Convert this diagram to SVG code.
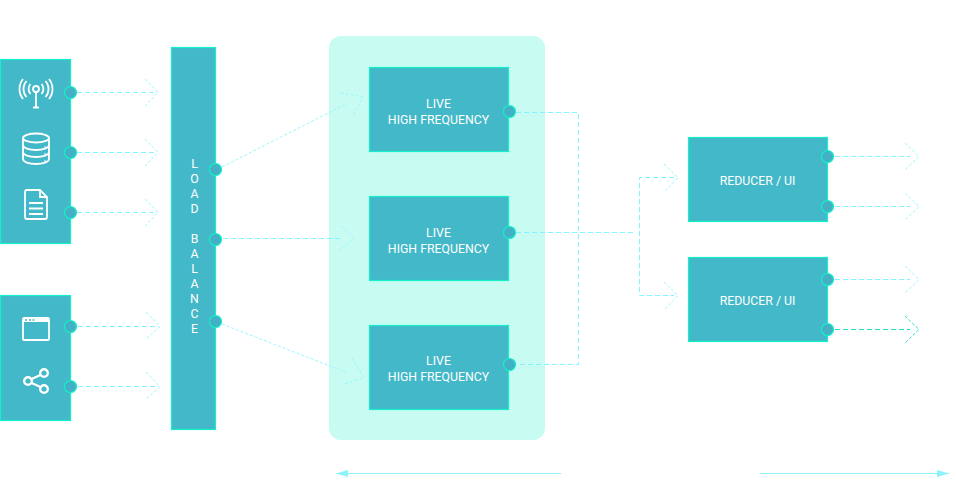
<svg xmlns="http://www.w3.org/2000/svg" width="956" height="482" viewBox="0 0 956 482">
<defs>
<style>
.box{fill:#43b8c8;stroke:#14f0c8;stroke-width:1.200}
.dot{fill:#43b0c6;stroke:#14f0c8;stroke-width:1.200}
.t{font-family:Roboto,"Liberation Sans",sans-serif;font-size:12.300px;fill:#fff;text-anchor:middle}
.d{fill:none;stroke:#80f4ff;stroke-width:1;stroke-dasharray:5 3}
.c{fill:none;stroke:#9af6ff;stroke-width:1;stroke-dasharray:3 2}
.i{fill:none;stroke:#fff;stroke-width:1.800}
.s{fill:none;stroke:#8ff2fa;stroke-width:1}
</style>
<marker id="tip" markerWidth="12" markerHeight="8" refX="12" refY="3.500" orient="auto" markerUnits="userSpaceOnUse"><path d="M0 0 L12 3.500 L0 7 Z" fill="#8ff2fa"/></marker>
</defs>
<rect id="panel" x="329" y="36" width="216" height="404" rx="12" fill="#c8fcf3"/>
<g id="connectors">
<path class="d" d="M77 92.500H155"/><path class="c" d="M145 79L158 92.500L145 106"/>
<path class="d" d="M77 152.500H155"/><path class="c" d="M145 139L158 152.500L145 166"/>
<path class="d" d="M77 212.500H155"/><path class="c" d="M145 199L158 212.500L145 226"/>
<path class="d" d="M78 326.500H157"/><path class="c" d="M146 312L160 326.500L146 339"/>
<path class="d" d="M78 386.500H157"/><path class="c" d="M146 372L160 386.500L146 399"/>
<path class="c" d="M222 167L348 103"/><path class="c" d="M341 93L363 97L353 117"/>
<path class="d" d="M223 238.500H340"/><path class="c" d="M341 226L354 238.500L338 252"/>
<path class="c" d="M222 324L348 373"/><path class="c" d="M352 358L364 378L343 384"/>
<path class="d" d="M516 112.500H578.500V364.500H516"/>
<path class="d" d="M516 232.500H636"/>
<path class="d" d="M674 177.500H639.500V295.500H674"/>
<path class="c" d="M664 164L678 177.500L665 191"/>
<path class="c" d="M664 282L678 295.500L665 309"/>
<path class="d" d="M835 156.500H910"/><path class="c" d="M905 143L919 156.500L905 170"/>
<path class="d" d="M835 206.500H910"/><path class="c" d="M905 193L919 206.500L905 220"/>
<path class="d" d="M835 279.500H910"/><path class="c" d="M905 266L919 279.500L905 293"/>
<path d="M835 329.500H910" fill="none" stroke="#20e0c8" stroke-dasharray="5 3"/><path d="M905 316L919 329.500L905 343" fill="none" stroke="#20dcc8" stroke-dasharray="3 2"/>
<path class="s" d="M561 473.500H336" marker-end="url(#tip)"/>
<path class="s" d="M760 473.500H949" marker-end="url(#tip)"/>
</g>
<g id="sources-a">
<rect class="box" x="0.500" y="59.500" width="70" height="184"/>
<circle class="dot" cx="70.500" cy="92.500" r="6"/><circle class="dot" cx="70.500" cy="152.500" r="6"/><circle class="dot" cx="70.500" cy="212.500" r="6"/>
<g class="i">
<circle cx="36" cy="89" r="3"/><path d="M36 92V107M33 107.500H39"/>
<path d="M30.500 94A7.500 7.500 0 0 1 30.500 84M41.500 84A7.500 7.500 0 0 1 41.500 94"/>
<path d="M26.500 97A12 12 0 0 1 26.500 81M45.500 81A12 12 0 0 1 45.500 97"/>
<path d="M23 99A16 16 0 0 1 23 79M49 79A16 16 0 0 1 49 99"/>
</g>
<g class="i">
<ellipse cx="36" cy="138" rx="13" ry="4.500"/>
<path d="M23 138V159C23 162 29 164 36 164C43 164 49 162 49 159V138M23 145C23 148 29 150 36 150C43 150 49 148 49 145M23 152C23 155 29 157 36 157C43 157 49 155 49 152"/>
</g>
<path d="M44 147H46M44 154H46M44 161H46" stroke="#fff" stroke-width="1"/>
<path class="i" d="M27 190H40L47 197V217A2 2 0 0 1 45 219H27A2 2 0 0 1 25 217V192A2 2 0 0 1 27 190ZM40 190V197H47"/>
<path class="i" d="M29 203H43M29 208.500H43M29 214H43"/>
</g>
<g id="sources-b">
<rect class="box" x="0.500" y="295.500" width="70" height="125"/>
<circle class="dot" cx="70.500" cy="326.500" r="6"/><circle class="dot" cx="70.500" cy="386.500" r="6"/>
<rect class="i" x="23" y="318" width="26" height="22" rx="1"/>
<path d="M23 318H49V322H23Z" fill="#fff"/>
<path d="M25 320H27M29 320H31M32.500 320H34.500" stroke="#43b8c8" stroke-width="1.500"/>
<g class="i" style="stroke-width:2.400"><circle cx="28" cy="381" r="3.800"/><circle cx="44" cy="373" r="3.800"/><circle cx="44" cy="389" r="3.800"/><path d="M31.500 379L40.500 375M31.500 383L40.500 387"/></g>
</g>
<g id="load-balance">
<rect class="box" x="171.500" y="47.500" width="44" height="382"/>
<circle class="dot" cx="215.500" cy="169.500" r="6"/><circle class="dot" cx="215.500" cy="239.500" r="6"/><circle class="dot" cx="215.500" cy="321.500" r="6"/>
<g class="t">
<text x="194.500" y="168">L</text><text x="194.500" y="183">O</text><text x="194.500" y="198">A</text><text x="194.500" y="213">D</text>
<text x="194.500" y="243">B</text><text x="194.500" y="258">A</text><text x="194.500" y="273">L</text><text x="194.500" y="288">A</text><text x="194.500" y="303">N</text><text x="194.500" y="318">C</text><text x="194.500" y="333">E</text>
</g>
</g>
<g id="live-1"><rect class="box" x="369.500" y="67.500" width="139" height="84"/><circle class="dot" cx="509.500" cy="111.500" r="6"/><text class="t" x="438.500" y="108">LIVE</text><text class="t" x="438.500" y="124">HIGH FREQUENCY</text></g>
<g id="live-2"><rect class="box" x="369.500" y="196.500" width="139" height="84"/><circle class="dot" cx="509.500" cy="232.500" r="6"/><text class="t" x="438.500" y="237">LIVE</text><text class="t" x="438.500" y="253">HIGH FREQUENCY</text></g>
<g id="live-3"><rect class="box" x="369.500" y="325.500" width="139" height="84"/><circle class="dot" cx="509.500" cy="364.500" r="6"/><text class="t" x="438.500" y="365">LIVE</text><text class="t" x="438.500" y="381">HIGH FREQUENCY</text></g>
<g id="reducer-1"><rect class="box" x="688.500" y="137.500" width="139" height="84"/><circle class="dot" cx="827.500" cy="156.500" r="6"/><circle class="dot" cx="827.500" cy="206.500" r="6"/><text class="t" x="757.500" y="185">REDUCER / UI</text></g>
<g id="reducer-2"><rect class="box" x="688.500" y="257.500" width="139" height="84"/><circle class="dot" cx="827.500" cy="279.500" r="6"/><circle class="dot" cx="827.500" cy="329.500" r="6"/><text class="t" x="757.500" y="305">REDUCER / UI</text></g>
</svg>
